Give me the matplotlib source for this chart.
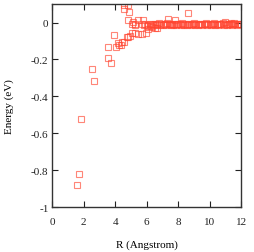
import matplotlib
matplotlib.use("Agg")
import matplotlib.pyplot as plt

plt.rcParams['font.family'] = ['Liberation Serif', 'DejaVu Serif']
plt.rcParams['axes.unicode_minus'] = False

# distances (Angstrom) and energies (eV)
r_vals = [1.56, 1.71, 1.84, 2.53, 2.66, 3.54, 3.54, 3.71, 3.92, 4.03,
          4.20, 4.24, 4.37, 4.41, 4.54, 4.77, 4.83, 4.58, 4.79, 4.58,
          4.87, 4.83, 4.94, 5.04, 5.04, 5.25, 5.25, 5.46, 5.46, 5.68,
          5.68, 5.93, 6.10, 6.31, 6.52, 6.63, 5.74, 5.15, 5.27,
          5.80, 5.90, 6.00, 6.08, 6.18, 6.25, 6.35, 6.42, 6.50, 6.58,
          6.68, 6.75, 6.85, 6.92, 7.00, 7.08, 7.15, 7.22, 7.30, 7.34,
          7.38, 7.45, 7.52, 7.60, 7.68, 7.75, 7.78, 7.85, 7.92, 8.00,
          8.08, 8.15, 8.22, 8.30, 8.38, 8.45, 8.52, 8.60, 8.63, 8.70,
          8.78, 8.85, 8.92, 9.00, 9.08, 9.15, 9.22, 9.30, 9.38, 9.45,
          9.52, 9.60, 9.68, 9.75, 9.82, 9.90, 9.98, 10.05, 10.12, 10.20,
          10.28, 10.35, 10.42, 10.50, 10.58, 10.65, 10.72, 10.80, 10.88, 10.93,
          11.00, 11.08, 11.15, 11.22, 11.30, 11.33, 11.40, 11.48, 11.55, 11.62,
          11.70, 11.78, 11.85, 11.92, 11.97]
e_vals = [-0.878, -0.820, -0.521, -0.251, -0.319, -0.130, -0.191, -0.218, -0.070, -0.130,
          -0.112, -0.121, -0.119, -0.105, -0.108, -0.076, -0.081, 0.093, 0.093, 0.072,
          0.057, 0.011, -0.072, -0.009, -0.054, -0.009, -0.054, 0.011, -0.063, -0.009,
          -0.063, -0.054, -0.036, -0.022, -0.027, -0.027, 0.011, 0.005, -0.013,
          -0.015, -0.010, -0.020, -0.012, -0.008, -0.018, -0.010, -0.014, -0.006, -0.016,
          -0.010, -0.004, -0.012, -0.008, -0.014, -0.006, -0.010, -0.012, -0.005, 0.018,
          -0.010, -0.008, -0.012, -0.006, -0.014, -0.009, 0.011, -0.012, -0.006, -0.010,
          -0.008, -0.013, -0.005, -0.010, -0.012, -0.007, -0.011, -0.009, 0.050, -0.006,
          -0.012, -0.008, -0.010, -0.005, -0.011, -0.009, -0.013, -0.006, -0.010, -0.008,
          -0.012, -0.007, -0.010, -0.005, -0.011, -0.009, -0.006, -0.012, -0.008, -0.010,
          -0.005, -0.011, -0.008, -0.012, -0.006, -0.010, -0.009, -0.004, -0.011, 0.002,
          -0.008, -0.012, -0.006, -0.010, -0.007, 0.000, -0.011, -0.008, -0.005, -0.010,
          -0.012, -0.007, -0.009, -0.006, -0.010]

x_ticks = [0, 2, 4, 6, 8, 10, 12]
y_ticks = [0, -0.2, -0.4, -0.6, -0.8, -1]
y_tick_labels = ['0', '-0.2', '-0.4', '-0.6', '-0.8', '-1']

fig = plt.figure(figsize=(2.55, 2.53), dpi=100)
ax = fig.add_axes([0.204, 0.177, 0.743, 0.803])

ax.plot(r_vals, e_vals, linestyle='none', marker='s', markersize=5,
        markerfacecolor='none', markeredgecolor='#ff4530', markeredgewidth=0.8,
        alpha=0.65)

ax.set_xlim(0, 12)
ax.set_ylim(-1, 0.1)
ax.set_xticks(x_ticks)
ax.set_xticklabels([str(t) for t in x_ticks])
ax.set_yticks(y_ticks)
ax.set_yticklabels(y_tick_labels)

ax.tick_params(direction='in', length=4, width=0.8, top=True, right=True,
               labelsize=8, colors='#222222')
ax.tick_params(axis='x', pad=7)
ax.tick_params(axis='y', pad=2.5)
for s in ax.spines.values():
    s.set_linewidth(1.0)
    s.set_color('#333333')

ax.set_xlabel('R (Angstrom)', fontsize=8, labelpad=10)
ax.set_ylabel('Energy (eV)', fontsize=8, labelpad=12)

fig.savefig('out.png', dpi=100)
